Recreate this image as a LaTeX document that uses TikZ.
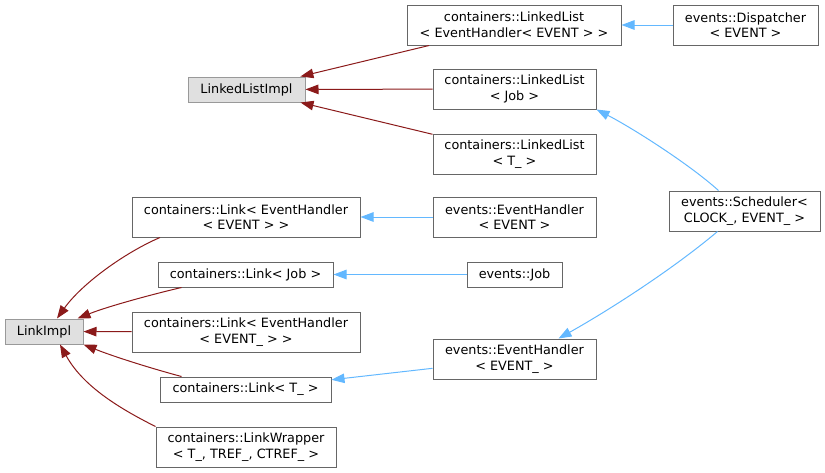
\documentclass[tikz,border=0pt]{standalone}
\usepackage{fontspec}
\setmainfont{DejaVu Sans}
\usepackage{xcolor}
\definecolor{boxBorder}{HTML}{666666}
\definecolor{currentBorder}{HTML}{999999}
\definecolor{currentFill}{HTML}{E0E0E0}
\definecolor{linkRed}{HTML}{8B1A1A}
\definecolor{linkBlue}{HTML}{63B8FF}
\usetikzlibrary{
    arrows.meta,
    positioning
}
\tikzset{
    % Base style for all class boxes
    class base/.style={
        font=\fontsize{12.8}{15.6}\selectfont,
        align=center,
        inner sep=0pt,
        rectangle,
        line width=1pt,
    },
    % Ordinary class box - white with grey border
    classbox/.style={
        class base,
        draw=boxBorder,
        fill=white,
    },
    % The class the graph is about - light grey
    currentbox/.style={
        class base,
        draw=currentBorder,
        fill=currentFill,
    },
    % Private inheritance arrow - dark red
    arrow red/.style={
        -{Triangle[length=13pt, width=9.5pt]},
        line width=1pt,
        draw=linkRed,
    },
    % Template instance arrow - light blue
    arrow blue/.style={
        arrow red,
        draw=linkBlue,
    },
}

\begin{document}
\begin{tikzpicture}[x=1pt, y=-1pt]
    \useasboundingbox (0,0) rectangle (825,472);

    \node (llimpl) [currentbox, minimum width=117pt, minimum height=25pt] at (246.5,89.5) {LinkedListImpl};
    \node (llev) [classbox, minimum width=214pt, minimum height=40pt] at (514,25) {containers::LinkedList\\< EventHandler< EVENT > >};
    \node (disp) [classbox, minimum width=145pt, minimum height=40pt, right=51pt of llev] {events::Dispatcher\\< EVENT >};
    \node (lljob) [classbox, minimum width=163pt, minimum height=40pt] at (514.5,89) {containers::LinkedList\\< Job >};
    \node (llt) [classbox, minimum width=163pt, minimum height=40pt, below=24pt of lljob] {containers::LinkedList\\< T\_ >};
    \node (sched) [classbox, minimum width=151pt, minimum height=40pt] at (744.5,211) {events::Scheduler<\\CLOCK\_, EVENT\_ >};
    \node (evh) [classbox, minimum width=163pt, minimum height=40pt] at (514.5,217) {events::EventHandler\\< EVENT >};
    \node (evjob) [classbox, minimum width=95pt, minimum height=25pt] at (514.5,274.5) {events::Job};
    \node (evhu) [classbox, minimum width=163pt, minimum height=40pt] at (514.5,359) {events::EventHandler\\< EVENT\_ >};
    \node (linkimpl) [currentbox, minimum width=78pt, minimum height=25pt] at (44,331.5) {LinkImpl};
    \node (lnkev) [classbox, minimum width=228pt, minimum height=40pt] at (246,217) {containers::Link< EventHandler\\< EVENT > >};
    \node (lnkjob) [classbox, minimum width=175pt, minimum height=25pt] at (245.5,274.5) {containers::Link< Job >};
    \node (lnkevu) [classbox, minimum width=228pt, minimum height=40pt] at (246,332) {containers::Link< EventHandler\\< EVENT\_ > >};
    \node (lnkt) [classbox, minimum width=171pt, minimum height=25pt] at (245.5,389.5) {containers::Link< T\_ >};
    \node (lnkwrap) [classbox, minimum width=180pt, minimum height=40pt] at (246,447) {containers::LinkWrapper\\< T\_, TREF\_, CTREF\_ >};

    \draw [arrow red] (llev) -- (llimpl);
    \draw [arrow red] (lljob) -- (llimpl);
    \draw [arrow red] (llt) -- (llimpl);
    \draw [arrow blue] (disp) -- (llev);
    \draw [arrow blue] ([xshift=-26pt]sched.north) .. controls +(-30,-27) and +(35,18) .. (lljob.south east);
    \draw [arrow blue] ([xshift=-27pt]sched.south) .. controls +(-45,38) and +(50,-28) .. ([xshift=44pt]evhu.north);
    \draw [arrow blue] (evh) -- (lnkev);
    \draw [arrow blue] (evjob) -- (lnkjob);
    \draw [arrow blue] (evhu) -- (lnkt);
    \draw [arrow red] ([xshift=-86pt]lnkev.south) .. controls +(-35,15) and +(25,-35) .. ([xshift=13pt]linkimpl.north);
    \draw [arrow red] ([xshift=-64pt]lnkjob.south) .. controls +(-30,7) and +(30,-12) .. ([xshift=-6pt]linkimpl.north east);
    \draw [arrow red] (lnkevu) -- (linkimpl);
    \draw [arrow red] ([xshift=-64pt]lnkt.north) .. controls +(-30,-8) and +(30,12) .. (linkimpl.south east);
    \draw [arrow red] (lnkwrap.north west) .. controls +(-40,-20) and +(22,40) .. ([xshift=16pt]linkimpl.south);
\end{tikzpicture}
\end{document}
